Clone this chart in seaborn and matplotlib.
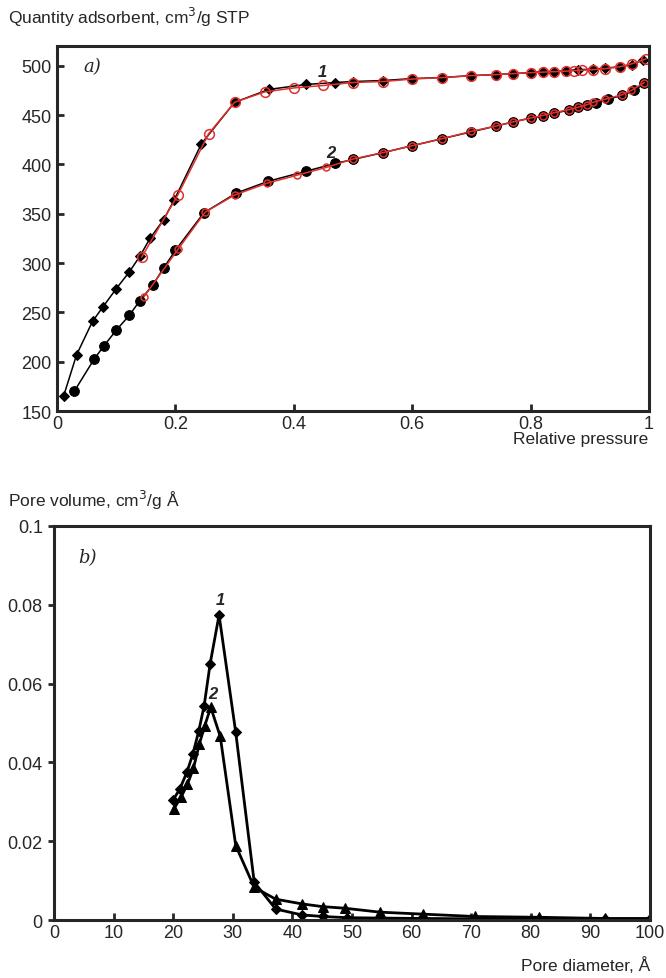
import numpy as np
import pandas as pd
import matplotlib
matplotlib.use("Agg")
import matplotlib.pyplot as plt
import seaborn as sns
from matplotlib.ticker import FuncFormatter

# panel a) isotherms, sample 1 (adsorption = black, desorption = red)
p1_ads = [0.011, 0.033, 0.060, 0.078, 0.100, 0.122, 0.140, 0.157, 0.180, 0.198, 0.244, 0.300,
          0.358, 0.420, 0.470, 0.500, 0.551, 0.600, 0.650, 0.700, 0.742, 0.770, 0.800, 0.820,
          0.840, 0.860, 0.880, 0.906, 0.925, 0.951, 0.971, 0.990]
q1_ads = [165, 207, 241, 256, 274, 291, 307, 325, 344, 364, 421, 463,
          476, 481, 483, 484, 485, 487, 488, 490, 491, 492, 493, 494,
          494, 495, 496, 496.5, 497.5, 499, 501, 506]
p1_des = [0.995, 0.971, 0.951, 0.925, 0.906, 0.886, 0.873, 0.860, 0.840, 0.820, 0.800, 0.770,
          0.742, 0.700, 0.650, 0.600, 0.551, 0.500, 0.450, 0.400, 0.351, 0.300, 0.256, 0.204, 0.143]
q1_des = [507, 502, 499, 497, 496, 495.5, 495, 494.5, 494, 493.5, 493, 492,
          491, 490, 488, 486.5, 484, 483, 480, 477.5, 473.5, 463, 431, 369, 306]

# sample 2
p2_ads = [0.029, 0.063, 0.079, 0.100, 0.122, 0.140, 0.162, 0.180, 0.200, 0.248, 0.303, 0.357,
          0.420, 0.470, 0.500, 0.551, 0.600, 0.650, 0.700, 0.742, 0.770, 0.800, 0.820, 0.840,
          0.865, 0.880, 0.895, 0.910, 0.930, 0.955, 0.975, 0.992]
q2_ads = [170, 203, 216, 232, 247, 262, 278, 295, 313, 351, 371, 383,
          393, 401, 405, 412, 419, 426, 433, 439, 443, 447, 449, 452,
          455, 458, 460, 462, 466, 470, 475, 482]
p2_des = [0.992, 0.970, 0.954, 0.925, 0.906, 0.895, 0.880, 0.865, 0.840, 0.820, 0.800, 0.770,
          0.742, 0.700, 0.650, 0.600, 0.551, 0.500, 0.455, 0.405, 0.355, 0.300, 0.250, 0.205, 0.147]
q2_des = [483, 475, 470.5, 466, 463, 460.5, 458, 455.5, 452.5, 449.5, 447, 443,
          439, 433.5, 426, 419, 412, 405.5, 397, 389, 381, 369, 351.5, 314.5, 266]

# panel b) pore size distribution
d1 = [20.0, 21.1, 22.3, 23.3, 24.3, 25.2, 26.2, 27.7, 30.5, 33.6, 37.2, 41.6, 45.1,
      49.1, 54.7, 61.7, 70.6, 81.4, 92.4, 100]
v1 = [0.0305, 0.0332, 0.0375, 0.0421, 0.0480, 0.0544, 0.0650, 0.0774, 0.0476, 0.0096,
      0.0028, 0.0013, 0.0009, 0.0006, 0.0005, 0.0004, 0.0003, 0.0003, 0.0002, 0.0002]
d2 = [20.1, 21.3, 22.4, 23.4, 24.4, 25.3, 26.3, 27.9, 30.5, 33.6, 37.2, 41.6, 45.1,
      48.8, 54.7, 61.9, 70.6, 81.4, 92.4, 100]
v2 = [0.0282, 0.0311, 0.0345, 0.0385, 0.0447, 0.0493, 0.0540, 0.0466, 0.0189, 0.0083,
      0.0053, 0.0041, 0.0034, 0.0030, 0.0020, 0.0015, 0.0009, 0.0007, 0.0004, 0.0004]

sns.set_style("ticks")
plt.rcParams["font.family"] = ["Liberation Sans", "DejaVu Sans"]
plt.rcParams["font.size"] = 12

fig = plt.figure(figsize=(6.66, 9.79), dpi=100)
ax1 = fig.add_axes([0.0856, 0.579, 0.889, 0.373])
ax2 = fig.add_axes([0.081, 0.0592, 0.895, 0.4025])

red = "#e0302c"
sns.lineplot(x=p1_ads, y=q1_ads, ax=ax1, color="black", lw=1.1, marker="D", ms=5,
             mfc="black", mec="black", sort=False)
sns.lineplot(x=p2_ads, y=q2_ads, ax=ax1, color="black", lw=1.1, marker="o", ms=7,
             mfc="black", mec="black", sort=False)
sns.lineplot(x=p1_des, y=q1_des, ax=ax1, color=red, lw=1.1, marker="o", ms=7,
             mfc="none", mec=red, mew=1.1, sort=False)
sns.lineplot(x=p2_des, y=q2_des, ax=ax1, color=red, lw=1.1, marker="o", ms=5,
             mfc="none", mec=red, mew=1.1, sort=False)

ax1.set_xlim(0, 1)
ax1.set_ylim(150, 520)
ax1.set_xticks([0, 0.2, 0.4, 0.6, 0.8, 1])
ax1.set_yticks([150, 200, 250, 300, 350, 400, 450, 500])

sns.lineplot(x=d1, y=v1, ax=ax2, color="black", lw=2, marker="D", ms=5,
             mfc="black", mec="black", sort=False)
sns.lineplot(x=d2, y=v2, ax=ax2, color="black", lw=2, marker="^", ms=7,
             mfc="black", mec="black", sort=False)
ax2.set_xlim(0, 100)
ax2.set_ylim(0, 0.1)
ax2.set_xticks(range(0, 101, 10))
ax2.set_yticks([0, 0.02, 0.04, 0.06, 0.08, 0.1])

fmt = FuncFormatter(lambda v, pos: ("%g" % v))
for ax in (ax1, ax2):
    ax.xaxis.set_major_formatter(fmt)
    ax.yaxis.set_major_formatter(fmt)
    for s in ax.spines.values():
        s.set_visible(True)
        s.set_linewidth(2.2)
    ax.tick_params(axis="x", direction="in", length=5, width=2, labelsize=13, pad=3)
    ax.tick_params(axis="y", direction="in", length=5, width=2, labelsize=13, pad=4)
    ax.set_xlabel("")
    ax.set_ylabel("")
ax2.tick_params(axis="y", direction="out", length=4)

fig.text(0.012, 0.982, "Quantity adsorbent, cm$^3$/g STP", fontsize=12.5, va="center")
fig.text(0.974, 0.551, "Relative pressure", fontsize=12.5, ha="right", va="center")
fig.text(0.012, 0.489, "Pore volume, cm$^3$/g Å", fontsize=12.5, va="center")
fig.text(0.976, 0.014, "Pore diameter, Å", fontsize=12.5, ha="right", va="center")

ax1.text(0.045, 0.945, "a)", transform=ax1.transAxes, fontsize=13, style="italic",
         family="DejaVu Serif", va="center")
ax1.text(0.449, 487, "1", fontsize=12, fontweight="bold", style="italic", ha="center", va="bottom")
ax1.text(0.463, 404, "2", fontsize=12, fontweight="bold", style="italic", ha="center", va="bottom")
ax2.text(0.04, 0.922, "b)", transform=ax2.transAxes, fontsize=13, style="italic",
         family="DejaVu Serif", va="center")
ax2.text(28.0, 0.0795, "1", fontsize=12, fontweight="bold", style="italic", ha="center", va="bottom")
ax2.text(26.7, 0.0555, "2", fontsize=12, fontweight="bold", style="italic", ha="center", va="bottom")

fig.savefig("out.png", dpi=100)
